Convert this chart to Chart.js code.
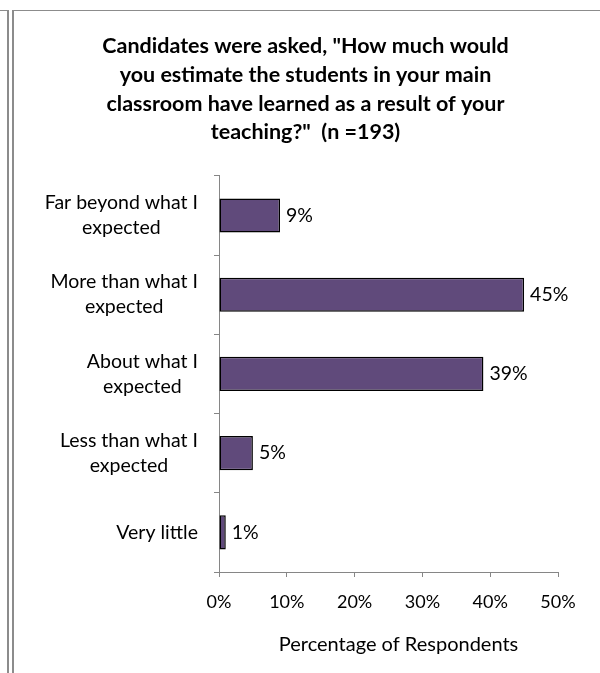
<!DOCTYPE html>
<html>
<head>
<meta charset="utf-8">
<script src="https://cdn.jsdelivr.net/npm/chart.js@4"></script>
<style>
  html, body { margin: 0; padding: 0; background: #fff; }
  #wrap { position: relative; width: 600px; height: 673px; overflow: hidden; }
  #chart { position: absolute; left: 0; top: 0; }
  .rule { position: absolute; background: #8c8c8c; }
</style>
</head>
<body>
<div id="wrap">
  <div class="rule" style="left:0;top:10px;width:8px;height:1px"></div>
  <div class="rule" style="left:12px;top:10px;width:588px;height:1px"></div>
  <div class="rule" style="left:7px;top:10px;width:2px;height:663px"></div>
  <div class="rule" style="left:12px;top:10px;width:2px;height:663px"></div>
  <canvas id="chart" width="600" height="673"></canvas>
</div>
<script>
const FONT = "Lato, 'Open Sans', sans-serif";

// answers, top to bottom
const answers = [
    ['Far beyond what I', 'expected'],
    ['More than what I', 'expected'],
    ['About what I', 'expected'],
    ['Less than what I', 'expected'],
    ['Very little']
];
// percentage of respondents
const percents = [9, 45, 39, 5, 1];
const xTicks = [0, 10, 20, 30, 40, 50];
const titleLines = [
    'Candidates were asked, "How much would',
    'you estimate the students in your main',
    'classroom have learned as a result of your',
    'teaching?"  (n =193)'
];
const xTitle = 'Percentage of Respondents';

// category names, centred per block and pushed against the axis
const answerLabels = {
    id: 'answerLabels',
    afterDraw(chart) {
        const ctx = chart.ctx;
        const yScale = chart.scales.y;
        ctx.save();
        ctx.font = '19.5px ' + FONT;
        ctx.fillStyle = '#000';
        ctx.textAlign = 'center';
        ctx.textBaseline = 'middle';
        answers.forEach((lines, i) => {
            const w = Math.max(...lines.map(l => ctx.measureText(l).width));
            const cx = 198 - w / 2;
            const cy = yScale.getPixelForTick(i);
            const lh = 25;
            lines.forEach((l, j) => {
                ctx.fillText(l, cx, cy + (j - (lines.length - 1) / 2) * lh);
            });
        });

        // axis title sits a little right of the plot centre
        ctx.font = '20px ' + FONT;
        const xScale = chart.scales.x;
        ctx.fillText(xTitle, (xScale.left + xScale.right) / 2 + 10, 645);
        ctx.restore();
    }
};

// percent labels just past the end of each bar
const valueLabels = {
    id: 'valueLabels',
    afterDatasetsDraw(chart) {
        const ctx = chart.ctx;
        const meta = chart.getDatasetMeta(0);
        ctx.save();
        ctx.font = '19.5px ' + FONT;
        ctx.fillStyle = '#000';
        ctx.textAlign = 'left';
        ctx.textBaseline = 'middle';
        meta.data.forEach((bar, i) => {
            ctx.fillText(Math.round(percents[i]) + '%', bar.x + 6, bar.y);
        });
        ctx.restore();
    }
};

new Chart(document.getElementById('chart').getContext('2d'), {
    type: 'bar',
    data: {
        labels: answers,
        datasets: [{
            data: percents,
            backgroundColor: '#604A7B',
            borderColor: '#000',
            borderWidth: 1.5,
            borderSkipped: false,
            categoryPercentage: 1,
            barPercentage: 0.43
        }]
    },
    options: {
        indexAxis: 'y',
        responsive: false,
        animation: false,
        layout: { padding: { left: 53, right: 42, top: 0, bottom: 0 } },
        plugins: {
            legend: { display: false },
            tooltip: { enabled: false },
            title: {
                display: true,
                text: titleLines,
                color: '#000',
                font: { family: FONT, size: 21.5, weight: 'bold', lineHeight: 1.335 },
                padding: { top: 32, bottom: 29 }
            }
        },
        scales: {
            x: {
                min: 0,
                max: 50,
                afterBuildTicks(scale) {
                    scale.ticks = xTicks.map(v => ({ value: v }));
                },
                afterFit(scale) { scale.height = 101; },
                ticks: {
                    color: '#000',
                    font: { family: FONT, size: 18 },
                    padding: 14,
                    callback: v => v + '%'
                },
                grid: {
                    drawOnChartArea: false,
                    tickLength: 5,
                    color: '#868686'
                },
                border: { color: '#868686', width: 1 }
            },
            y: {
                afterFit(scale) { scale.width = 166; },
                ticks: { display: false },
                grid: {
                    drawOnChartArea: false,
                    offset: true,
                    tickLength: 5,
                    color: '#868686'
                },
                border: { color: '#868686', width: 1 }
            }
        }
    },
    plugins: [answerLabels, valueLabels]
});
</script>
</body>
</html>
